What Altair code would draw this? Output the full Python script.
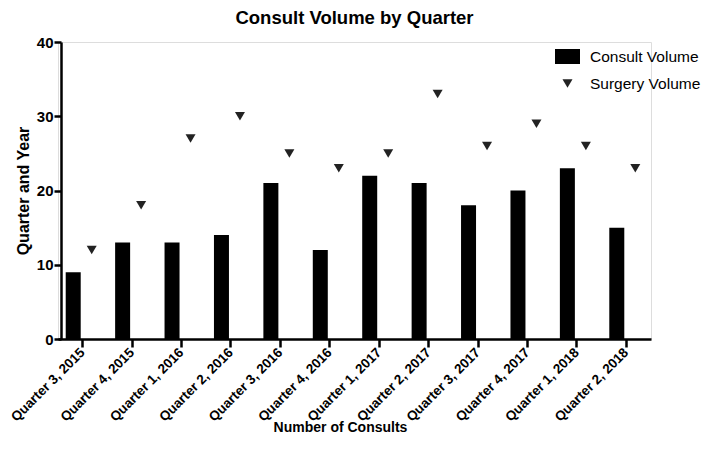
import altair as alt
import pandas as pd

quarters = ["Quarter 3, 2015", "Quarter 4, 2015", "Quarter 1, 2016", "Quarter 2, 2016",
            "Quarter 3, 2016", "Quarter 4, 2016", "Quarter 1, 2017", "Quarter 2, 2017",
            "Quarter 3, 2017", "Quarter 4, 2017", "Quarter 1, 2018", "Quarter 2, 2018"]
consult_volume = [9, 13, 13, 14, 21, 12, 22, 21, 18, 20, 23, 15]
surgery_volume = [12, 18, 27, 30, 25, 23, 25, 33, 26, 29, 26, 23]
series_names = ["Consult Volume", "Surgery Volume"]
y_ticks = [0, 10, 20, 30, 40]

df = pd.DataFrame({
    "quarter": quarters * 2,
    "series": [series_names[0]] * len(quarters) + [series_names[1]] * len(quarters),
    "value": consult_volume + surgery_volume,
})

FONT = "Liberation Sans"
RECT = "M-1,-0.6H1V0.6H-1Z"
TRI = "M-0.4,-0.34L0.4,-0.34L0,0.34Z"

x = alt.X(
    "quarter:N", sort=quarters,
    scale=alt.Scale(paddingInner=0, paddingOuter=0),
    axis=alt.Axis(
        title="Number of Consults", labelAngle=315, labelAlign="right", labelBaseline="middle",
        labelFont=FONT, labelFontSize=13.5, labelFontWeight="bold", labelColor="black",
        labelPadding=3, tickSize=8, tickWidth=2.5, tickColor="black",
        domainColor="black", domainWidth=2.5, grid=False,
        titleFont=FONT, titleFontSize=14, titleFontWeight="bold", titleColor="black",
        titleX=282, titleY=88, titleAlign="center", titleBaseline="middle",
    ),
)
y = alt.Y(
    "value:Q", stack=None,
    scale=alt.Scale(domain=[0, 40], nice=False),
    axis=alt.Axis(
        title="Quarter and Year", values=y_ticks, offset=-3,
        labelFont=FONT, labelFontSize=15, labelFontWeight="bold", labelColor="black",
        labelPadding=1, tickSize=7, tickWidth=2.5, tickColor="black",
        domainColor="black", domainWidth=2.5, grid=False,
        titleFont=FONT, titleFontSize=16, titleFontWeight="bold", titleColor="black",
        titlePadding=5,
    ),
)
legend = alt.Legend(
    title=None, orient="none", legendX=497, legendY=2, symbolSize=625,
    labelFont=FONT, labelFontSize=15.5, labelColor="black", labelOffset=10,
    rowPadding=6, padding=0, symbolStrokeWidth=0, labelLimit=300,
)
color = alt.Color("series:N", scale=alt.Scale(domain=series_names, range=["black", "#222222"]),
                  legend=legend)
shape = alt.Shape("series:N", scale=alt.Scale(domain=series_names, range=[RECT, TRI]),
                  legend=legend)

bars = alt.Chart(df).transform_filter(
    alt.datum.series == series_names[0]
).mark_bar(width=15, xOffset=-9.5, opacity=1).encode(x=x, y=y, color=color)

points = alt.Chart(df).transform_filter(
    alt.datum.series == series_names[1]
).mark_point(filled=True, size=625, xOffset=9, opacity=1, strokeWidth=0).encode(
    x=x, y=y, color=color, shape=shape)

chart = alt.layer(bars, points).properties(
    width=593, height=297,
    autosize=alt.AutoSizeParams(type="none"),
    padding={"left": 50, "top": 34, "right": 50, "bottom": 117},
    title=alt.TitleParams("Consult Volume by Quarter", font=FONT, fontSize=18.5,
                          fontWeight="bold", color="black", anchor="middle", offset=8),
).configure_view(strokeWidth=0, strokeOpacity=0).configure(background="white")

chart.save("out.html", embed_options={"renderer": "svg", "actions": False})
